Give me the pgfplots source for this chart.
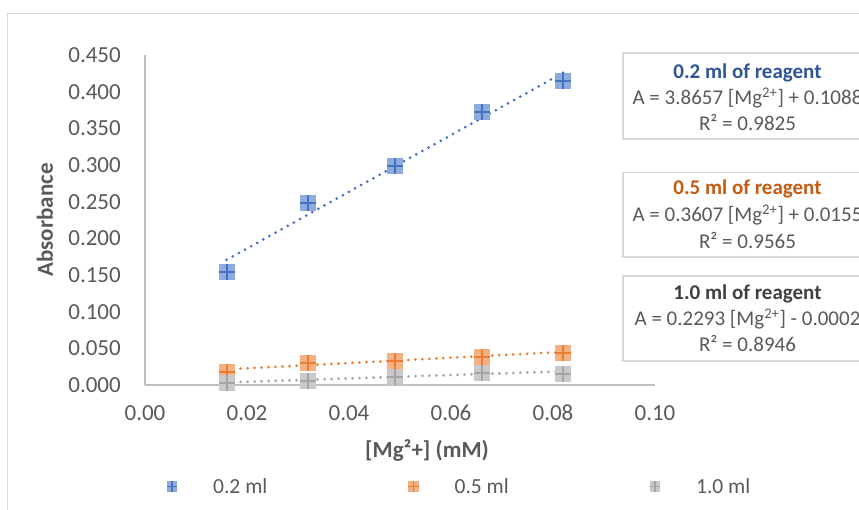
\documentclass[border=0pt]{standalone}
\usepackage{pgfplots}
\pgfplotsset{compat=1.18}
\usepackage{fontspec}
\setmainfont{Carlito}
\definecolor{bline}{HTML}{4472C4}
\definecolor{bfill}{HTML}{8FAADC}
\definecolor{oline}{HTML}{ED7D31}
\definecolor{ofill}{HTML}{F4B183}
\definecolor{gline}{HTML}{A5A5A5}
\definecolor{gfill}{HTML}{C9C9C9}
\definecolor{txt}{HTML}{595959}
\definecolor{axl}{HTML}{BFBFBF}
\definecolor{brd}{HTML}{D9D9D9}
\definecolor{btitle}{HTML}{2F5597}
\definecolor{otitle}{HTML}{C55A11}
\definecolor{gtitle}{HTML}{404040}
\pgfdeclareplotmark{sqplus}{%
 \pgfpathrectangle{\pgfpoint{-\pgfplotmarksize}{-\pgfplotmarksize}}{\pgfpoint{2\pgfplotmarksize}{2\pgfplotmarksize}}%
 \pgfusepathqfill
 \pgfpathmoveto{\pgfpoint{-\pgfplotmarksize}{0pt}}\pgfpathlineto{\pgfpoint{\pgfplotmarksize}{0pt}}%
 \pgfpathmoveto{\pgfpoint{0pt}{-\pgfplotmarksize}}\pgfpathlineto{\pgfpoint{0pt}{\pgfplotmarksize}}%
 \pgfusepathqstroke}
\newcommand{\legimg}[2]{\path[draw=none, mark=sqplus, mark size=5.3pt, mark options={fill=#1, draw=#2, line width=1.5pt}] plot coordinates {(0pt,0pt)}; \path[draw=none, fill=none] (-5.3pt,0pt) -- (41pt,0pt);}
\begin{document}
\begin{tikzpicture}[x=1pt,y=1pt]
\useasboundingbox (0,0) rectangle (859,510);
\clip (0,0) rectangle (859,510);
\fill[white] (0,0) rectangle (859,510);
\draw[brd, line width=1pt] (7,0) -- (7,496) -- (859,496);
\begin{axis}[
  at={(145pt,125pt)}, anchor=south west,
  scale only axis, width=510pt, height=330pt,
  xmin=0, xmax=0.1, ymin=0, ymax=0.45,
  clip=false,
  axis lines=left,
  axis line style={-, draw=axl, line width=1.3pt},
  major tick length=0pt,
  xtick={0,0.02,0.04,0.06,0.08,0.1},
  ytick={0,0.05,0.1,0.15,0.2,0.25,0.3,0.35,0.4,0.45},
  scaled ticks=false,
  /pgf/number format/assume math mode=true,
  xticklabel style={/pgf/number format/.cd, fixed, fixed zerofill, precision=2, /tikz/.cd,
     font=\fontsize{23}{27}\selectfont, text=txt, inner sep=0pt, anchor=north, yshift=-20pt},
  yticklabel style={/pgf/number format/.cd, fixed, fixed zerofill, precision=3, /tikz/.cd,
     font=\fontsize{23}{27}\selectfont, text=txt, inner sep=0pt, anchor=east, xshift=-24pt},
  legend columns=3,
  legend style={draw=none, fill=none, inner sep=0pt, anchor=west,
     at={(axis description cs:0.0425,-0.308)},
     font=\fontsize{21.5}{25}\selectfont, text=txt,
     nodes={inner sep=0pt},
     /tikz/every even column/.append style={column sep=141pt}},
]
\addplot[only marks, mark=sqplus, mark size=8pt, mark options={fill=bfill, draw=bline, line width=2pt},
  legend image code/.code={\legimg{bfill}{bline}}]
  coordinates {(0.016,0.1545) (0.032,0.2486) (0.049,0.2987) (0.066,0.3727) (0.082,0.415)};
\addlegendentry{0.2 ml}
\addplot[only marks, mark=sqplus, mark size=8pt, mark options={fill=ofill, draw=oline, line width=2pt},
  legend image code/.code={\legimg{ofill}{oline}}]
  coordinates {(0.016,0.018) (0.032,0.0296) (0.049,0.033) (0.066,0.0377) (0.082,0.044)};
\addlegendentry{0.5 ml}
\addplot[only marks, mark=sqplus, mark size=8pt, mark options={fill=gfill, draw=gline, line width=2pt},
  legend image code/.code={\legimg{gfill}{gline}}]
  coordinates {(0.016,0.0023) (0.032,0.0059) (0.049,0.0113) (0.066,0.016) (0.082,0.015)};
\addlegendentry{1.0 ml}
\addplot[bline, line width=3pt, line cap=round, dash pattern=on 0pt off 7pt, forget plot]
  coordinates {(0.016,0.1707) (0.082,0.4258)};
\addplot[oline, line width=3pt, line cap=round, dash pattern=on 0pt off 7pt, forget plot]
  coordinates {(0.016,0.0213) (0.082,0.0451)};
\addplot[gline, line width=3pt, line cap=round, dash pattern=on 0pt off 7pt, forget plot]
  coordinates {(0.016,0.0035) (0.082,0.0186)};
\end{axis}
\node[rotate=90, text=txt, font=\fontsize{23}{27}\selectfont\bfseries] at (45,290) {Absorbance};
\node[text=txt, font=\fontsize{23}{27}\selectfont\bfseries] at (427,59.3) {[Mg²+] (mM)};
% text boxes
\draw[brd, line width=1.5pt, fill=white] (623,457) rectangle (872,371);
\draw[brd, line width=1.5pt, fill=white] (623,337.3) rectangle (872,253);
\draw[brd, line width=1.5pt, fill=white] (623,234) rectangle (872,149);
\begin{scope}[every node/.style={anchor=base, inner sep=0pt, font=\fontsize{21}{25}\selectfont, text=txt}]
\node[text=btitle, font=\fontsize{21}{25}\selectfont\bfseries] at (747.5,431.6) {0.2 ml of reagent};
\node at (747.5,405.3) {A = 3.8657 [Mg\textsuperscript{2+}] + 0.1088};
\node at (747.5,379.3) {R² = 0.9825};
\node[text=otitle, font=\fontsize{21}{25}\selectfont\bfseries] at (747.5,315) {0.5 ml of reagent};
\node at (747.5,288.3) {A = 0.3607 [Mg\textsuperscript{2+}] + 0.0155};
\node at (747.5,261.6) {R² = 0.9565};
\node[text=gtitle, font=\fontsize{21}{25}\selectfont\bfseries] at (747.5,210) {1.0 ml of reagent};
\node at (747.5,184) {A = 0.2293 [Mg\textsuperscript{2+}] - 0.0002};
\node at (747.5,158.3) {R² = 0.8946};
\end{scope}
\end{tikzpicture}
\end{document}
